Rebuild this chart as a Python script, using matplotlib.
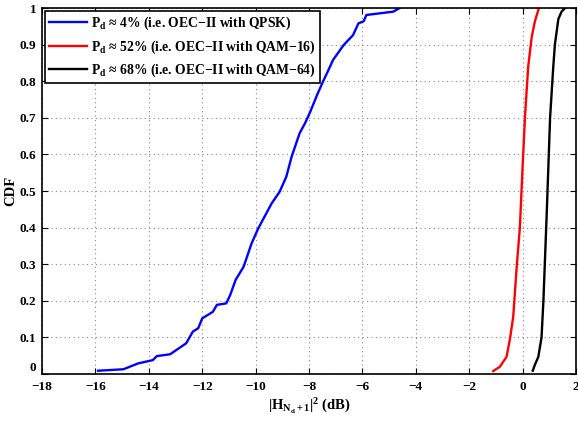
import matplotlib
matplotlib.use('Agg')
import matplotlib.pyplot as plt

plt.rcParams['font.family'] = 'Liberation Serif'
plt.rcParams['font.weight'] = 'bold'
plt.rcParams['mathtext.fontset'] = 'custom'
plt.rcParams['mathtext.rm'] = 'Liberation Serif:bold'
plt.rcParams['mathtext.it'] = 'Liberation Serif:bold'
plt.rcParams['mathtext.bf'] = 'Liberation Serif:bold'

# QPSK (blue)
qpsk_x = [-15.9, -14.95, -14.4, -13.85, -13.7, -13.2, -12.6, -12.35, -12.15, -12.0, -11.6, -11.45,
          -11.1, -10.95, -10.75, -10.45, -10.15, -9.9, -9.4, -9.1, -8.85, -8.65, -8.35, -8.15,
          -7.95, -7.7, -7.45, -7.3, -7.1, -6.7, -6.35, -6.15, -5.95, -5.85, -4.85, -4.6]
qpsk_y = [0.009, 0.013, 0.029, 0.038, 0.049, 0.054, 0.084, 0.116, 0.125, 0.152, 0.17, 0.189,
          0.193, 0.216, 0.257, 0.293, 0.357, 0.398, 0.466, 0.498, 0.539, 0.594, 0.658, 0.685,
          0.717, 0.762, 0.803, 0.826, 0.858, 0.899, 0.926, 0.958, 0.964, 0.981, 0.99, 1.0]

# QAM-16 (red)
qam16_x = [-1.1, -0.85, -0.6, -0.47, -0.35, -0.22, -0.1, 0.0, 0.09, 0.21, 0.34, 0.46, 0.61]
qam16_y = [0.008, 0.02, 0.047, 0.097, 0.157, 0.293, 0.402, 0.566, 0.703, 0.84, 0.92, 0.963, 1.0]

# QAM-64 (black)
qam64_x = [0.38, 0.46, 0.59, 0.71, 0.78, 0.9, 1.03, 1.15, 1.21, 1.34, 1.46, 1.59]
qam64_y = [0.009, 0.025, 0.047, 0.1, 0.2, 0.43, 0.7, 0.84, 0.9, 0.97, 0.99, 1.0]

labels = [r'$\mathregular{P_d}$ ≈ 4% (i.e. OEC−II with QPSK)',
          r'$\mathregular{P_d}$ ≈ 52% (i.e. OEC−II with QAM−16)',
          r'$\mathregular{P_d}$ ≈ 68% (i.e. OEC−II with QAM−64)']

fig = plt.figure(figsize=(5.78, 4.22), dpi=100)
ax = fig.add_axes([0.0727, 0.1137, 0.9238, 0.8673])

ax.plot(qpsk_x, qpsk_y, color='blue', linewidth=1.7, label=labels[0])
ax.plot(qam16_x, qam16_y, color='red', linewidth=1.7, label=labels[1])
ax.plot(qam64_x, qam64_y, color='black', linewidth=1.7, label=labels[2])

ax.set_xlim(-18, 2)
ax.set_ylim(0, 1)
ax.set_xticks(range(-18, 3, 2))
ax.set_yticks([i / 10 for i in range(11)])
ax.set_yticklabels(['0', '0.1', '0.2', '0.3', '0.4', '0.5', '0.6', '0.7', '0.8', '0.9', '1'])
ax.tick_params(direction='in', top=True, right=True, labelsize=9.5, length=4)
ax.tick_params(axis='x', pad=5)
ax.tick_params(axis='y', pad=4)
# lift the bottom "0" a little so it clears the "-18" below it
ax.get_yticklabels()[0].set_verticalalignment('bottom')
for s in ax.spines.values():
    s.set_linewidth(1.2)
ax.grid(True, linestyle=(0, (1, 3)), color='#888888', linewidth=0.8)

ax.set_xlabel(r'$\mathregular{|H_{N_d+1}|^2}$ (dB)', fontsize=10.5, fontweight='bold', labelpad=3)
ax.set_ylabel('CDF', fontsize=10.5, fontweight='bold', labelpad=2)

leg = ax.legend(loc='upper left', fontsize=9.8, fancybox=False, framealpha=1,
                edgecolor='black', borderaxespad=0.2, handlelength=2.8,
                handletextpad=0.3, labelspacing=0.45, borderpad=0.3)
leg.get_frame().set_linewidth(1.2)

fig.savefig('out.png', dpi=100)
